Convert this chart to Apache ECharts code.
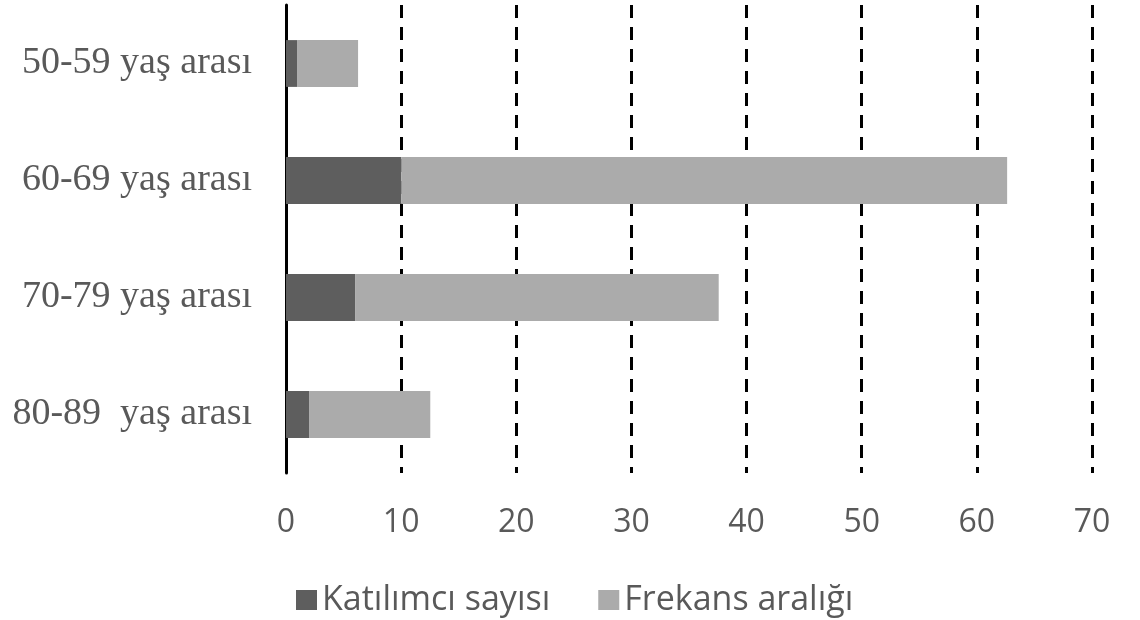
<!DOCTYPE html>
<html><head><meta charset="utf-8">
<script src="https://cdn.jsdelivr.net/npm/echarts@6/dist/echarts.min.js"></script>
<style>html,body{margin:0;padding:0;background:#fff}#c{width:1140px;height:620px}</style>
</head><body><div id="c"></div>
<script>
const categories = ['50-59 yaş arası', '60-69 yaş arası', '70-79 yaş arası', '80-89  yaş arası'];
const katilimci = [1, 10, 6, 2];
const frekans = [5.26, 52.63, 31.58, 10.53];
const xTicks = [0, 10, 20, 30, 40, 50, 60, 70];

const chart = echarts.init(document.getElementById('c'));
chart.setOption({
  animation: false,
  backgroundColor: '#fff',
  grid: { left: 286, right: 48, top: 5, bottom: 147, containLabel: false },
  legend: {
    top: 578, left: 291,
    itemWidth: 21, itemHeight: 20, itemGap: 48,
    icon: 'rect',
    textStyle: { fontFamily: 'Open Sans', fontSize: 34, color: '#595959', padding: [0, 0, 0, 0] },
    data: ['Katılımcı sayısı', 'Frekans aralığı']
  },
  xAxis: {
    type: 'value', min: 0, max: 70, interval: 10,
    axisLine: { show: false }, axisTick: { show: false },
    axisLabel: { fontFamily: 'Open Sans', fontSize: 32, color: '#595959', margin: 34,
      formatter: v => xTicks.includes(v) ? String(v) : '' },
    splitLine: { show: true, lineStyle: { color: '#000', width: 3, type: [13, 9] } }
  },
  yAxis: {
    type: 'category', inverse: true, data: categories,
    axisLine: { show: true, lineStyle: { color: '#000', width: 3 } },
    axisTick: { show: false },
    axisLabel: { fontFamily: 'Liberation Serif', fontSize: 38, color: '#595959', margin: 34 }
  },
  series: [
    { name: 'Katılımcı sayısı', type: 'bar', stack: 's', data: katilimci,
      barCategoryGap: '60%', itemStyle: { color: '#5e5e5e' } },
    { name: 'Frekans aralığı', type: 'bar', stack: 's', data: frekans,
      barCategoryGap: '60%', itemStyle: { color: '#ababab' } }
  ]
});
</script></body></html>
